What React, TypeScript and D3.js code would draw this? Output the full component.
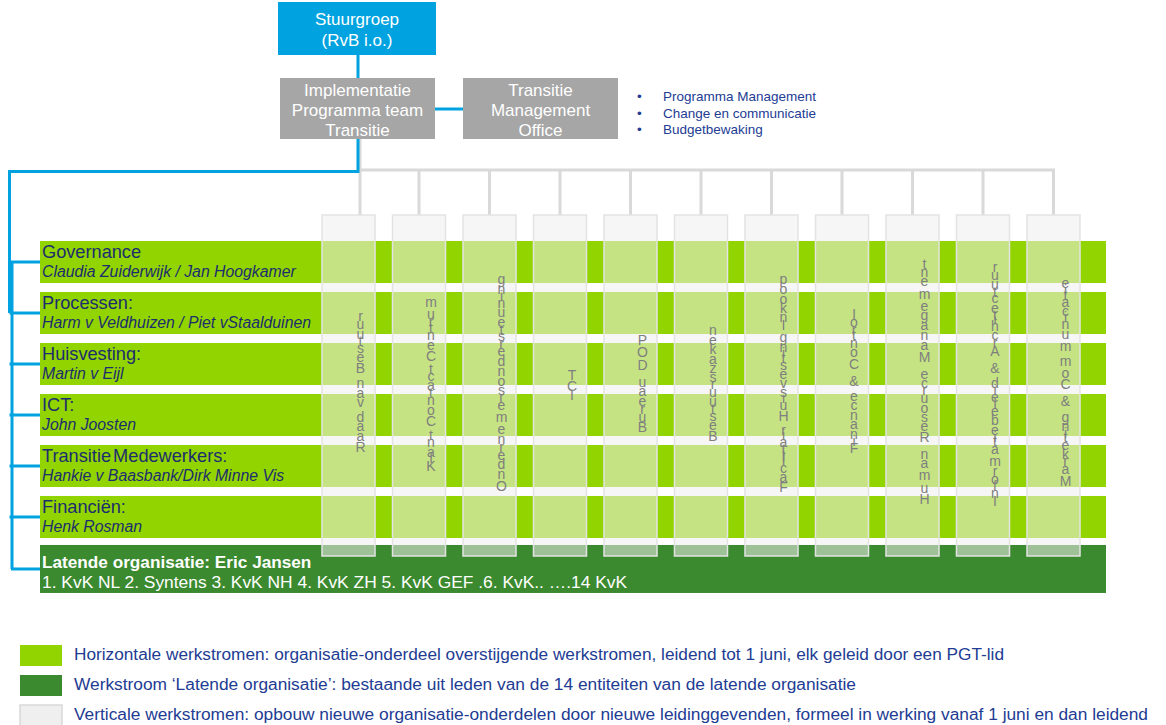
import * as d3 from "d3";
import { useMemo } from "react";

const W = 1166;
const H = 725;

const steeringLines = ["Stuurgroep", "(RvB i.o.)"];
const iptLines = ["Implementatie", "Programma team", "Transitie"];
const tmoLines = ["Transitie", "Management", "Office"];
const tmoBullets = ["Programma Management", "Change en communicatie", "Budgetbewaking"];

const rowTitles = ["Governance", "Processen:", "Huisvesting:", "ICT:", "Transitie Medewerkers:", "Financiën:"];
const rowLeads = [
  "Claudia Zuiderwijk  / Jan Hoogkamer",
  "Harm v Veldhuizen  / Piet vStaalduinen",
  "Martin v Eijl",
  "John Joosten",
  "Hankie v Baasbank/Dirk Minne Vis",
  "Henk Rosman",
];
const latentTitle = "Latende organisatie: Eric Jansen";
const latentMembers = "1. KvK NL 2. Syntens 3. KvK NH 4. KvK ZH 5. KvK GEF .6. KvK.. ….14 KvK";

const columns = [
  "Raad van Bestuur",
  "Klant Contact Centrum",
  "Ondernemersondersteuning",
  "ICT",
  "Bureau DOP",
  "Bestuurszaken",
  "Facilitair Huisvesting Inkoop",
  "Finance & Control",
  "Human Resource Management",
  "Informatiebeleid & Architectuur",
  "Marketing & Communicatie",
];

const legendLabels = [
  "Horizontale werkstromen: organisatie-onderdeel overstijgende werkstromen, leidend tot 1 juni, elk geleid door een PGT-lid",
  "Werkstroom ‘Latende organisatie’: bestaande uit leden van de 14 entiteiten van de latende organisatie",
  "Verticale werkstromen: opbouw nieuwe organisatie-onderdelen door nieuwe leidinggevenden, formeel in werking vanaf  1 juni en dan leidend",
];
const legendWidths = [930, 782, 1074];

const BLUE = "#00A3E0";
const GREY_BOX = "#A6A6A6";
const GREEN = "#92D400";
const DARK_GREEN = "#3C8A2F";
const NAVY = "#1C2E6E";
const TEXT_BLUE = "#223C93";
const LINE_GREY = "#D9D9D9";
const FONT = "'Liberation Sans', Arial, sans-serif";

export default function App() {
  const colX = d3.scaleBand<string>().domain(columns).range([322, 1080]).paddingInner(0.248);
  const rowY = d3.scaleBand<string>().domain(rowTitles).range([241, 538]).paddingInner(0.176);
  const latentTop = (rowY(rowTitles[rowTitles.length - 1]) as number) + rowY.step() - 2;
  const latentH = 48;
  const legendY = d3.scaleBand<number>().domain([0, 1, 2]).range([645, 726]).paddingInner(0.3);

  const colTop = 215;
  const colBottom = 556;
  const busY = 170;
  const trunkX = 358;
  const textMid = 384;

  // vertical labels: glyphs stay upright, advance like text rotated -90deg
  const stacks = useMemo(() => {
    const ctx = document.createElement("canvas").getContext("2d")!;
    ctx.font = `17.5px ${FONT}`;
    return columns.map((label) => {
      let cum = 0;
      const items = Array.from(label).map((ch) => {
        const w = ctx.measureText(ch).width;
        const c = cum + w / 2;
        cum += w;
        return { ch, c };
      });
      return { items, total: cum };
    });
  }, []);

  const rowMid = (r: string) => (rowY(r) as number) + rowY.bandwidth() / 2;

  return (
    <svg width={W} height={H} style={{ display: "block", fontFamily: FONT }}>
      <style>{"body{margin:0}"}</style>

      {/* top boxes */}
      <line x1={trunkX} x2={trunkX} y1={55} y2={78} stroke={BLUE} strokeWidth={3} />
      <line x1={435} x2={463} y1={109} y2={109} stroke={BLUE} strokeWidth={3} />
      <rect x={278} y={2} width={158} height={53} fill={BLUE} />
      {steeringLines.map((t, i) => (
        <text key={t} x={357} y={25 + i * 21} fill="#fff" fontSize={17} textAnchor="middle">{t}</text>
      ))}
      <rect x={280} y={78} width={155} height={61} fill={GREY_BOX} />
      {iptLines.map((t, i) => (
        <text key={t} x={357.5} y={96 + i * 20} fill="#fff" fontSize={17} textAnchor="middle">{t}</text>
      ))}
      <rect x={463} y={78} width={155} height={61} fill={GREY_BOX} />
      {tmoLines.map((t, i) => (
        <text key={t} x={540.5} y={96 + i * 20} fill="#fff" fontSize={17} textAnchor="middle">{t}</text>
      ))}
      {tmoBullets.map((t, i) => (
        <g key={t} fill={TEXT_BLUE} fontSize={13.5}>
          <text x={637} y={101 + i * 16.5}>•</text>
          <text x={663} y={101 + i * 16.5}>{t}</text>
        </g>
      ))}

      {/* grey bus to vertical streams */}
      <line x1={trunkX + 2} x2={trunkX + 2} y1={139} y2={colTop} stroke={LINE_GREY} strokeWidth={3} />
      <line x1={trunkX + 2} x2={(colX(columns[columns.length - 1]) as number) + colX.bandwidth() / 2 + 1.5} y1={busY} y2={busY} stroke={LINE_GREY} strokeWidth={3} />
      {columns.slice(1).map((c) => {
        const cx = (colX(c) as number) + colX.bandwidth() / 2;
        return <line key={c} x1={cx} x2={cx} y1={busY} y2={colTop} stroke={LINE_GREY} strokeWidth={3} />;
      })}

      {/* blue bracket to horizontal streams */}
      <polyline points={`${trunkX},139 ${trunkX},${busY + 1.5} 9.5,${busY + 1.5} 9.5,${rowMid(rowTitles[1])}`} fill="none" stroke={BLUE} strokeWidth={3} />
      <line x1={12} x2={12} y1={rowMid(rowTitles[0])} y2={latentTop + latentH / 2} stroke={BLUE} strokeWidth={3} />
      {rowTitles.map((r) => (
        <line key={r} x1={9.5} x2={40} y1={rowMid(r)} y2={rowMid(r)} stroke={BLUE} strokeWidth={3} />
      ))}
      <line x1={11} x2={40} y1={latentTop + latentH / 2} y2={latentTop + latentH / 2} stroke={BLUE} strokeWidth={3} />

      {/* horizontal streams */}
      {rowTitles.map((r, i) => {
        const y = rowY(r) as number;
        return (
          <g key={r}>
            <rect x={40} y={y} width={1066} height={rowY.bandwidth()} fill={GREEN} />
            <text x={42} y={y + 17} fontSize={18.2} fill={NAVY} wordSpacing={r.startsWith("Transitie") ? -3 : 0}>{r}</text>
            <text x={42} y={y + 36} fontSize={15.8} fontStyle="italic" fill={NAVY}>{rowLeads[i]}</text>
          </g>
        );
      })}
      <rect x={40} y={latentTop} width={1066} height={latentH} fill={DARK_GREEN} />
      <text x={42} y={latentTop + 23} fontSize={17.2} fontWeight="bold" fill="#fff">{latentTitle}</text>
      <text x={42} y={latentTop + 43} fontSize={17.4} fill="#fff">{latentMembers}</text>

      {/* vertical streams */}
      {columns.map((c, i) => {
        const x = colX(c) as number;
        const tx = x + colX.bandwidth() / 2 + 12;
        const { items, total } = stacks[i];
        const bottom = textMid + total / 2;
        return (
          <g key={c}>
            <rect x={x} y={colTop} width={colX.bandwidth()} height={colBottom - colTop} fill="#EFEFEF" fillOpacity={0.55} stroke="#E3E3E3" strokeWidth={1.5} />
            {items.map((it, k) =>
              it.ch.trim() ? (
                <text key={k} x={tx} y={bottom - it.c + 4.5} fontSize={14} fill="#7F7F7F" textAnchor="middle">{it.ch}</text>
              ) : null
            )}
          </g>
        );
      })}

      {/* legend */}
      {legendLabels.map((t, i) => {
        const y = legendY(i) as number;
        const fills = [GREEN, DARK_GREEN, "#EFEFEF"];
        return (
          <g key={i}>
            <rect x={20} y={y} width={42} height={legendY.bandwidth()} fill={fills[i]} stroke={i === 2 ? "#D9D9D9" : "none"} strokeWidth={1.5} />
            <text x={74} y={y + 15} fontSize={16} fill={TEXT_BLUE} textLength={legendWidths[i]} lengthAdjust="spacingAndGlyphs" style={{ fontFamily: "'Liberation Sans Narrow', 'Liberation Sans', sans-serif" }}>{t}</text>
          </g>
        );
      })}
    </svg>
  );
}
